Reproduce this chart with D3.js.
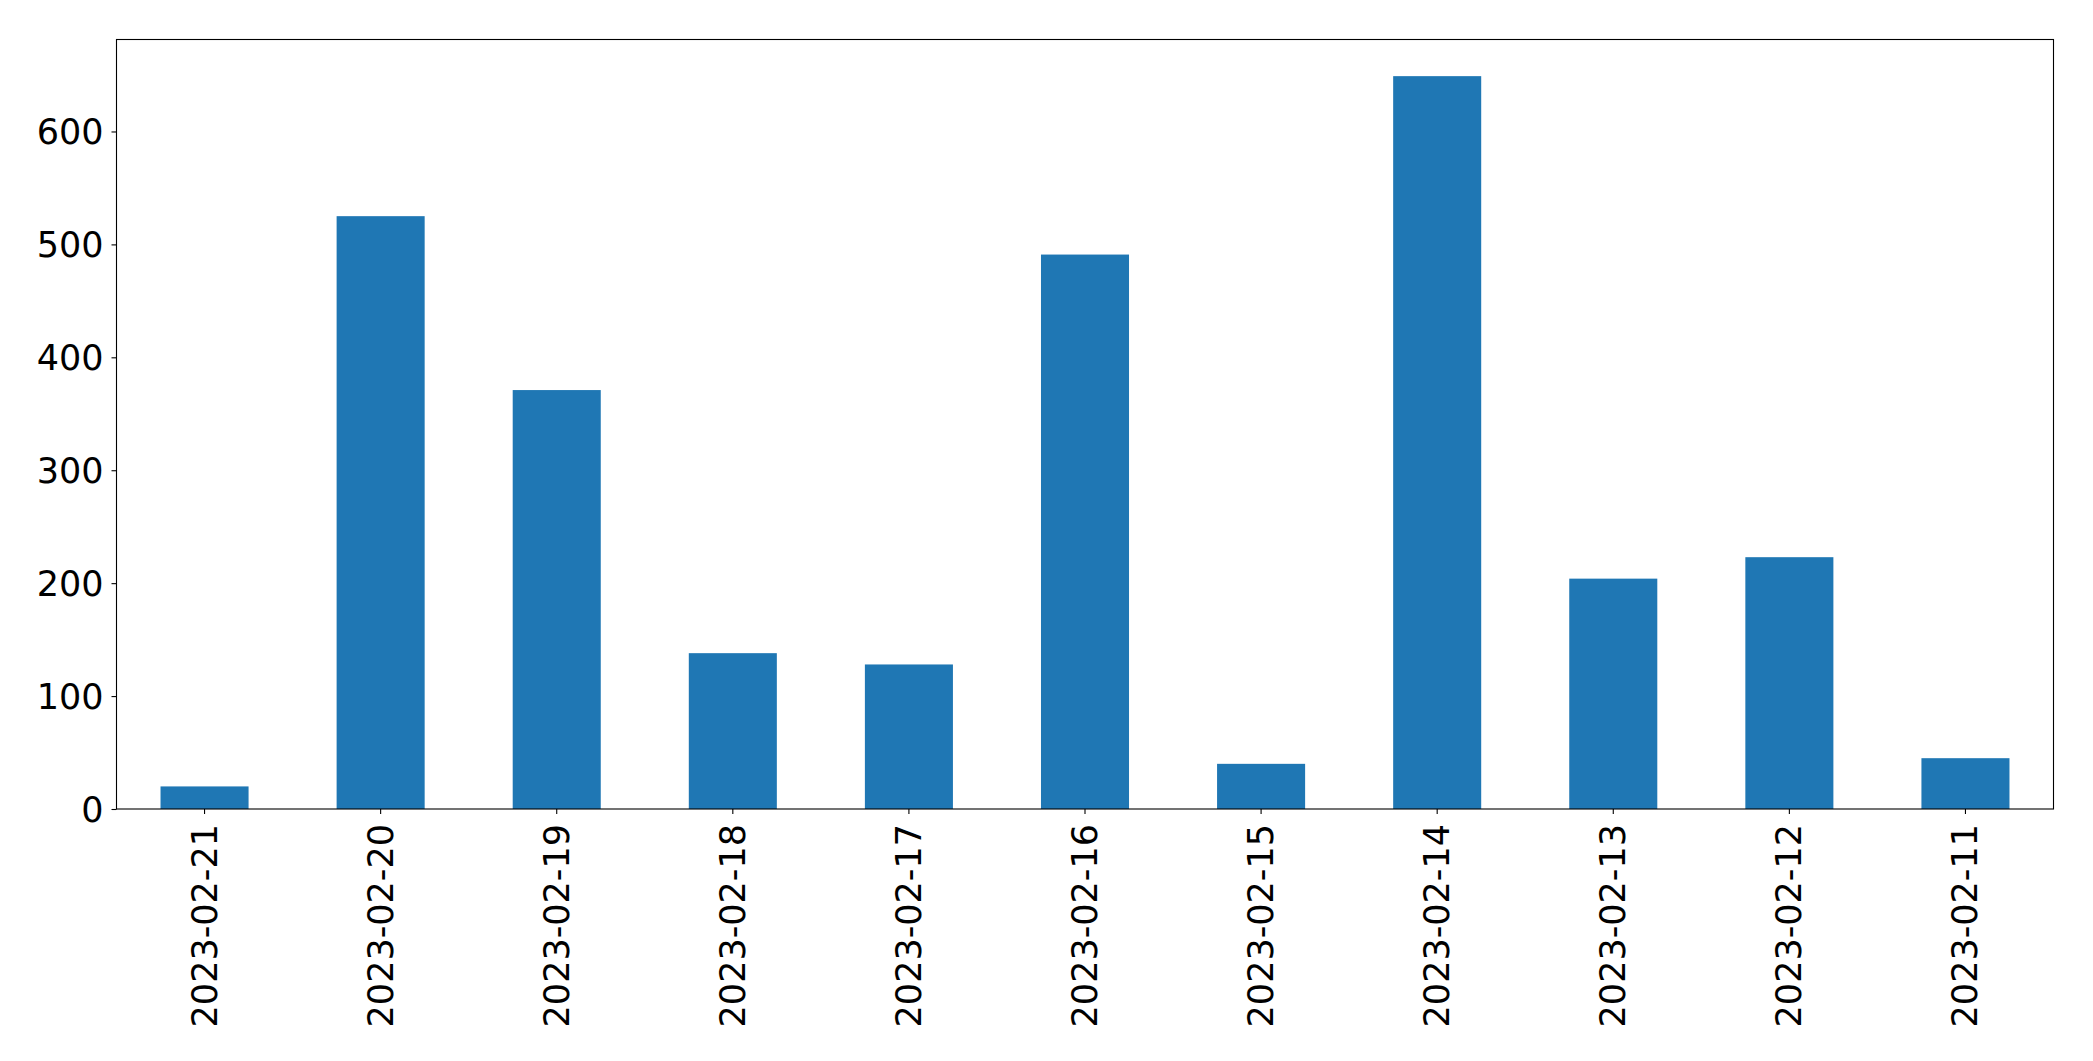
<!DOCTYPE html>
<html>
<head>
<meta charset="utf-8">
<script src="https://cdn.jsdelivr.net/npm/d3@7"></script>
<style>
  html, body { margin: 0; padding: 0; background: #fff; }
  svg { display: block; }
  text { font-family: "DejaVu Sans", sans-serif; }
</style>
</head>
<body>
<svg id="chart" width="2093" height="1061"></svg>
<script>
const categories = ["2023-02-21","2023-02-20","2023-02-19","2023-02-18","2023-02-17","2023-02-16","2023-02-15","2023-02-14","2023-02-13","2023-02-12","2023-02-11"];
const values = [20, 525, 371, 138, 128, 491, 40, 649, 204, 223, 45];
const yTicks = [0, 100, 200, 300, 400, 500, 600];

const margin = {left: 116.5, top: 39.5, right: 2093 - 2053.5, bottom: 1061 - 809};
const W = 2093, H = 1061;
const innerW = W - margin.left - margin.right;
const innerH = H - margin.top - margin.bottom;

const svg = d3.select("#chart");
const g = svg.append("g").attr("transform", `translate(${margin.left},${margin.top})`);

const x = d3.scaleBand().domain(categories).range([0, innerW]).paddingInner(0.5).paddingOuter(0.25);
const y = d3.scaleLinear().domain([0, d3.max(values) * 1.05]).range([innerH, 0]);

g.selectAll("rect.bar").data(values).join("rect")
  .attr("class", "bar")
  .attr("x", (d, i) => x(categories[i]))
  .attr("width", x.bandwidth())
  .attr("y", d => y(d))
  .attr("height", d => innerH - y(d))
  .attr("fill", "#1f77b4");

const fontSize = 35;

const yAxis = g.append("g").call(d3.axisLeft(y).tickValues(yTicks).tickSize(5).tickPadding(8).tickFormat(d3.format("d")));
yAxis.select(".domain").remove();
yAxis.selectAll("text").attr("font-size", fontSize).attr("fill", "#000").attr("dy", "0.35em");
yAxis.selectAll("line").attr("stroke", "#000").attr("stroke-width", 1.1);

const xAxis = g.append("g").attr("transform", `translate(0,${innerH})`)
  .call(d3.axisBottom(x).tickSize(5).tickPadding(0));
xAxis.select(".domain").remove();
xAxis.selectAll("line").attr("stroke", "#000").attr("stroke-width", 1.1);
xAxis.selectAll("text")
  .attr("font-size", fontSize)
  .attr("fill", "#000")
  .attr("text-anchor", "end")
  .attr("dy", null)
  .attr("y", 0)
  .attr("transform", "translate(0,15) rotate(-90)")
  .attr("dominant-baseline", "central");

g.append("rect")
  .attr("x", 0).attr("y", 0)
  .attr("width", innerW).attr("height", innerH)
  .attr("fill", "none").attr("stroke", "#000").attr("stroke-width", 1.1);
</script>
</body>
</html>
